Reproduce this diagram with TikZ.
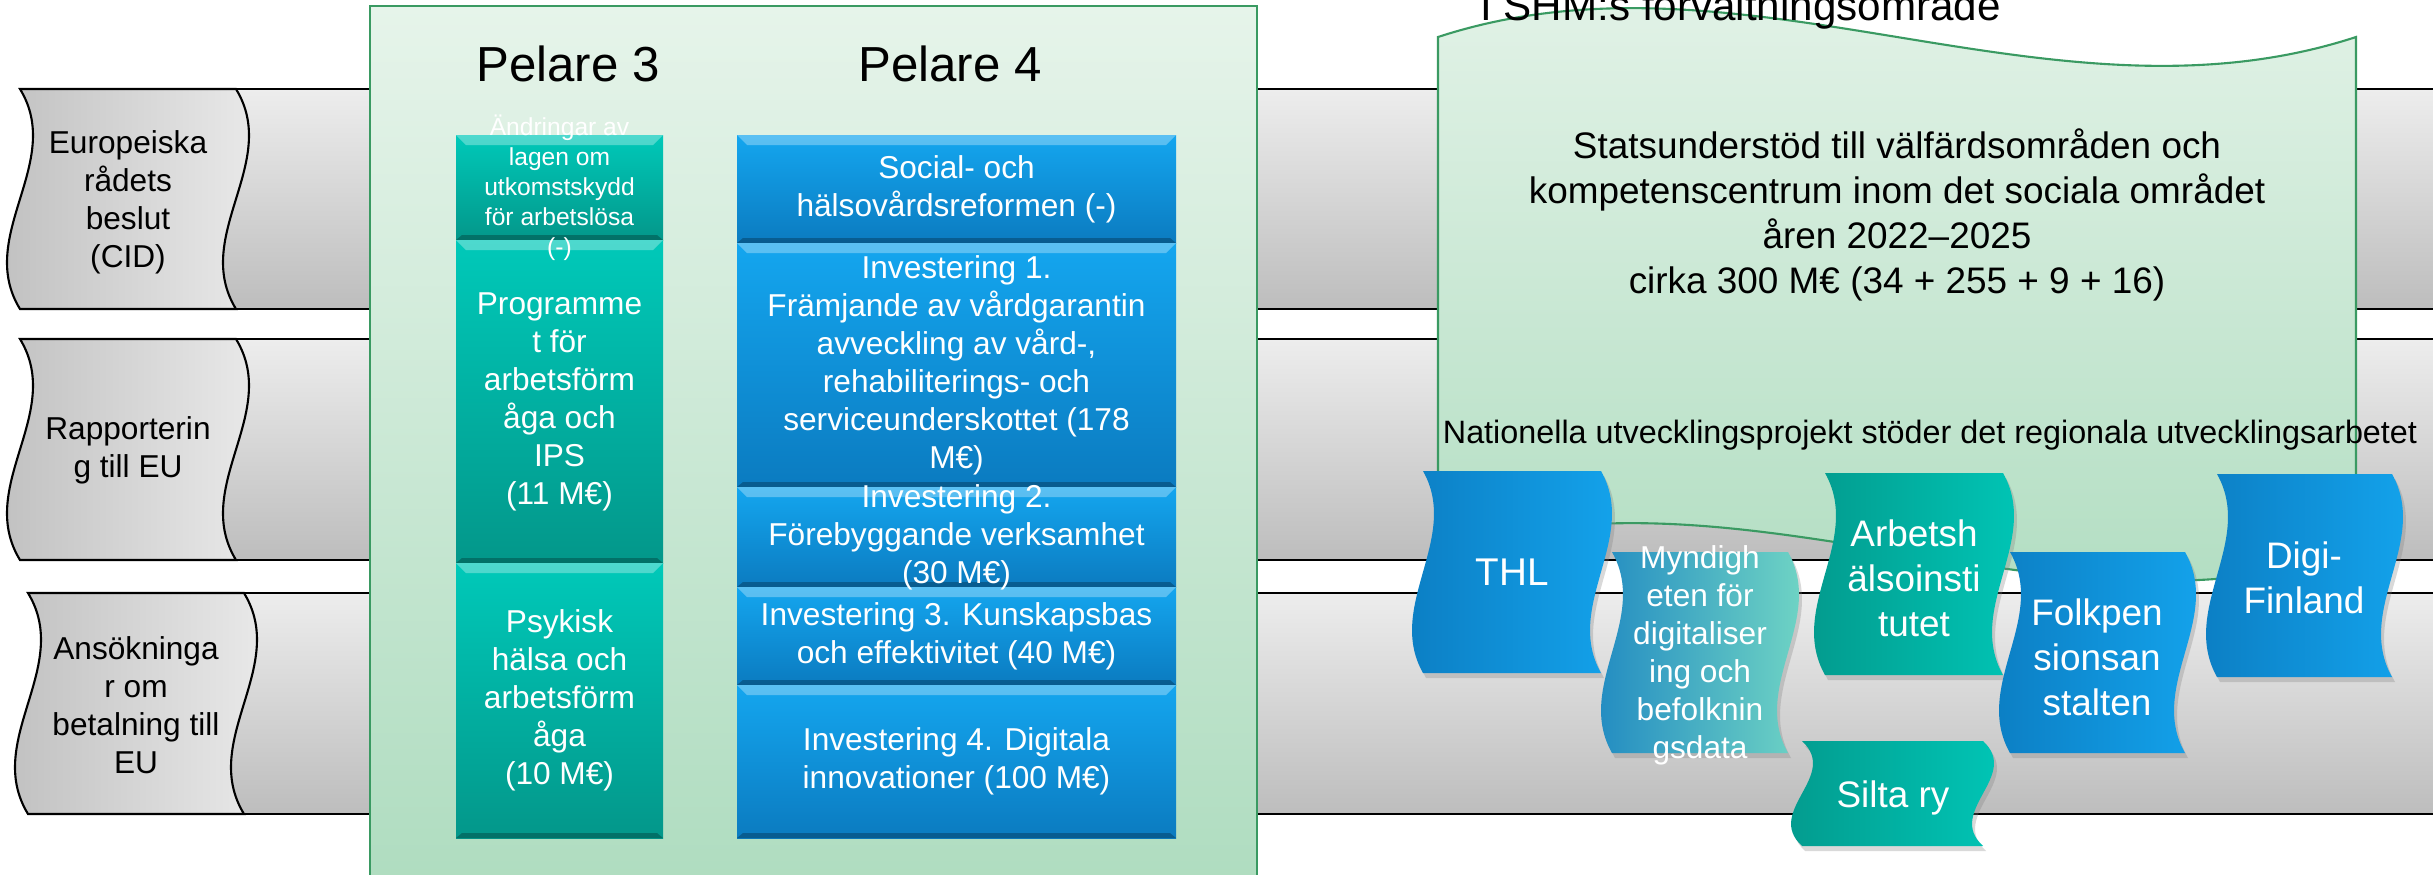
\documentclass[tikz,border=0pt]{standalone}
\usepackage{fontspec}
\setmainfont{Liberation Sans}
\usetikzlibrary{shadows}

\definecolor{grayLight}{HTML}{EDEDED}
\definecolor{grayDark}{HTML}{BDBDBD}
\definecolor{greenTop}{HTML}{E6F4EA}
\definecolor{greenBottom}{HTML}{AEDCBF}
\definecolor{greenLine}{HTML}{3A9A62}
\definecolor{tealLight}{HTML}{00C9B9}
\definecolor{tealDark}{HTML}{03978A}
\definecolor{blueLight}{HTML}{14A6EF}
\definecolor{blueDark}{HTML}{0B7BC0}
\definecolor{mynLeft}{HTML}{1A84C2}
\definecolor{mynRight}{HTML}{78DCC4}

% x, y of top left corner, width, height, bulge, style
\newcommand{\wavebox}[6]{%
  \path[#6] (#1,#2) -- ++(#3,0)
    .. controls +(#5,-#4/3) and +(-#5,#4/3) .. ++(0,-#4)
    -- ++(-#3,0)
    .. controls +(-#5,#4/3) and +(#5,-#4/3) .. ++(0,#4) -- cycle;}

\begin{document}
\begin{tikzpicture}
        \tikzstyle{band_body}  = [top color=grayLight, bottom color=grayDark]
        \tikzstyle{band_tab}   = [draw=black, line width=0.6pt, left color=grayDark, right color=grayLight]
        \tikzstyle{tab_text}   = [font=\fontsize{9}{10.8}\selectfont, align=center]
        \tikzstyle{green_bg}   = [top color=greenTop, bottom color=greenBottom, draw=greenLine, line width=0.6pt]
        \tikzstyle{bevel}      = [path picture={
            \fill[white, opacity=0.3] (path picture bounding box.north west) -- (path picture bounding box.north east)
              -- ([shift={(-0.1,-0.1)}]path picture bounding box.north east) -- ([shift={(0.1,-0.1)}]path picture bounding box.north west) -- cycle;
            \fill[black, opacity=0.25] (path picture bounding box.south west) -- (path picture bounding box.south east)
              -- ([shift={(-0.06,0.05)}]path picture bounding box.south east) -- ([shift={(0.06,0.05)}]path picture bounding box.south west) -- cycle;}]
        \tikzstyle{teal_box}   = [shape=rectangle, inner sep=0pt, minimum width=2.07cm, top color=tealLight, bottom color=tealDark, bevel]
        \tikzstyle{blue_box}   = [shape=rectangle, inner sep=0pt, minimum width=4.39cm, top color=blueLight, bottom color=blueDark, bevel]
        \tikzstyle{box_text}   = [text=white, font=\fontsize{9}{10.8}\selectfont, align=center]
        \tikzstyle{title_text} = [anchor=base, font=\fontsize{14}{16}\selectfont]
        \tikzstyle{blue_wave}  = [left color=blueDark, right color=blueLight, drop shadow={opacity=0.3, shadow xshift=0.03, shadow yshift=-0.05}]
        \tikzstyle{teal_wave}  = [left color=tealDark, right color=tealLight, drop shadow={opacity=0.3, shadow xshift=0.03, shadow yshift=-0.05}]
        \tikzstyle{myn_wave}   = [left color=mynLeft, right color=mynRight, drop shadow={opacity=0.3, shadow xshift=0.03, shadow yshift=-0.05}]
        \tikzstyle{wave_text}  = [text=white, font=\fontsize{10.5}{12.8}\selectfont, align=center]

        \useasboundingbox (0,0) rectangle (24.33,-8.74);

        % the three process bands
        \foreach \t/\b in {0.89/3.09, 3.39/5.60, 5.93/8.14} {
          \shade[band_body] (2.2,-\t) rectangle (24.6,-\b);
          \draw[line width=0.6pt] (2.2,-\t) -- (24.6,-\t) (2.2,-\b) -- (24.6,-\b);
        }
        \wavebox{0.20}{-0.89}{2.16}{2.20}{0.45}{band_tab}
        \wavebox{0.20}{-3.39}{2.16}{2.21}{0.45}{band_tab}
        \wavebox{0.28}{-5.93}{2.16}{2.21}{0.45}{band_tab}

        \node[tab_text] at (1.28,-2.02) (eu_beslut) {Europeiska\\rådets\\beslut\\(CID)};
        \node[tab_text] at (1.28,-4.50) (eu_rapport) {Rapporterin\\g till EU};
        \node[tab_text] at (1.36,-7.05) (eu_ansokan) {Ansökninga\\r om\\betalning till\\EU};

        % pillars
        \path[green_bg] (3.70,-9.0) -- (3.70,-0.06) -- (12.57,-0.06) -- (12.57,-9.0);

        \node[title_text] at (5.68,-0.81) (p3_title) {Pelare 3};
        \node[title_text] at (9.50,-0.81) (p4_title) {Pelare 4};

        \node[teal_box, minimum height=1.05cm] at (5.595,-1.875) (p3_a) {};
        \node[teal_box, minimum height=3.23cm] at (5.595,-4.015) (p3_b) {};
        \node[teal_box, minimum height=2.75cm] at (5.595,-7.005) (p3_c) {};

        \node[blue_box, minimum height=1.08cm] at (9.565,-1.89) (p4_s) {};
        \node[blue_box, minimum height=2.44cm] at (9.565,-3.65) (p4_i1) {};
        \node[blue_box, minimum height=1.00cm] at (9.565,-5.37) (p4_i2) {};
        \node[blue_box, minimum height=0.98cm] at (9.565,-6.36) (p4_i3) {};
        \node[blue_box, minimum height=1.53cm] at (9.565,-7.615) (p4_i4) {};

        \node[box_text, font=\fontsize{7}{8.5}\selectfont] at (p3_a) (p3_a_t) {Ändringar av\\lagen om\\utkomstskydd\\för arbetslösa\\(-)};
        \node[box_text] at (p3_b) (p3_b_t) {Programme\\t för\\arbetsförm\\åga och\\IPS\\(11 M€)};
        \node[box_text] at (p3_c) (p3_c_t) {Psykisk\\hälsa och\\arbetsförm\\åga\\(10 M€)};

        \node[box_text] at (p4_s) (p4_s_t) {Social- och\\hälsovårdsreformen (-)};
        \node[box_text] at (p4_i1) (p4_i1_t) {Investering 1.\\Främjande av vårdgarantin\\avveckling av vård-,\\rehabiliterings- och\\serviceunderskottet (178\\M€)};
        \node[box_text] at (p4_i2) (p4_i2_t) {Investering 2.\\Förebyggande verksamhet\\(30 M€)};
        \node[box_text] at (p4_i3) (p4_i3_t) {Investering 3. Kunskapsbas\\och effektivitet (40 M€)};
        \node[box_text] at (p4_i4) (p4_i4_t) {Investering 4. Digitala\\innovationer (100 M€)};

        % administrative branch
        \path[green_bg] (14.38,-0.37) .. controls (17.44,0.63) and (20.50,-1.37) .. (23.56,-0.37)
          -- (23.56,-5.52) .. controls (20.50,-6.52) and (17.44,-4.52) .. (14.38,-5.52) -- cycle;

        \node[anchor=base west, font=\fontsize{12}{14}\selectfont] at (14.68,-0.205) (shm_title) {I SHM:s förvaltningsområde};
        \node[font=\fontsize{10.5}{12.8}\selectfont, align=center] at (18.97,-2.15) (statsunderstod)
          {Statsunderstöd till välfärdsområden och\\kompetenscentrum inom det sociala området\\åren 2022–2025\\cirka 300 M€ (34 + 255 + 9 + 16)};
        \node[anchor=base, font=\fontsize{9.2}{11}\selectfont] at (19.30,-4.43) (nationella)
          {Nationella utvecklingsprojekt stöder det regionala utvecklingsarbetet};

        \wavebox{14.23}{-4.71}{1.78}{2.02}{0.38}{blue_wave}
        \wavebox{16.12}{-5.52}{1.76}{2.01}{0.38}{myn_wave}
        \wavebox{18.25}{-4.73}{1.78}{2.02}{0.38}{teal_wave}
        \wavebox{20.10}{-5.52}{1.75}{2.01}{0.38}{blue_wave}
        \wavebox{22.17}{-4.74}{1.75}{2.03}{0.38}{blue_wave}
        \wavebox{18.02}{-7.41}{1.81}{1.05}{0.38}{teal_wave}

        \node[wave_text, font=\fontsize{11}{13}\selectfont] at (15.12,-5.72) (thl) {THL};
        \node[wave_text, font=\fontsize{9}{10.8}\selectfont] at (17.00,-6.55) (myndigheten) {Myndigh\\eten för\\digitaliser\\ing och\\befolknin\\gsdata};
        \node[wave_text] at (19.14,-5.78) (ttl) {Arbetsh\\älsoinsti\\tutet};
        \node[wave_text] at (20.97,-6.57) (fpa) {Folkpen\\sionsan\\stalten};
        \node[wave_text] at (23.04,-5.78) (digi) {Digi-\\Finland};
        \node[wave_text] at (18.93,-7.975) (silta) {Silta ry};
      \end{tikzpicture}
\end{document}
